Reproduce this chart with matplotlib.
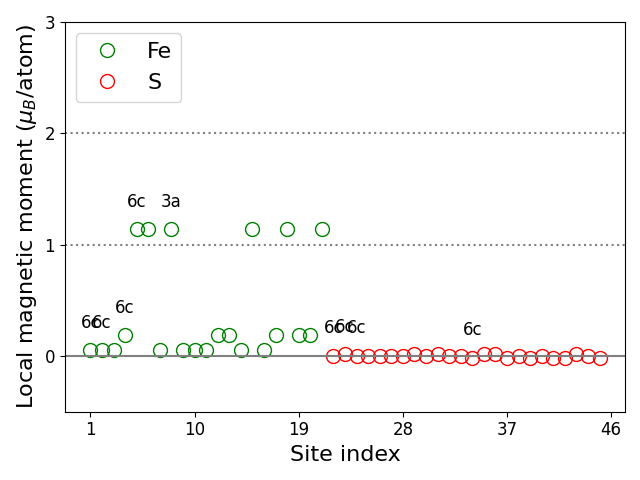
import numpy as np
import matplotlib
matplotlib.use("Agg")
import matplotlib.pyplot as plt

# 局域磁矩数据
fe_sites = list(range(1, 22))
fe_moments = [0.05, 0.05, 0.05, 0.19, 1.14, 1.14, 0.05, 1.14, 0.05, 0.05,
              0.05, 0.19, 0.19, 0.05, 1.14, 0.05, 0.19, 1.14, 0.19, 0.19,
              1.14]

s_sites = list(range(22, 46))
s_moments = [0.003, 0.02, 0.003, 0.003, 0.003, 0.003, 0.003, 0.02, 0.003, 0.02,
             0.003, 0.003, -0.015, 0.02, 0.02, -0.015, 0.0, -0.015, 0.003, -0.015,
             -0.015, 0.02, 0.003, -0.02]

# 标注的位点及其 Wyckoff 标签
label_sites = [1, 2, 4, 5, 8, 22, 23, 24, 34]
label_texts = ["6c", "6c", "6c", "6c", "3a", "6c", "6c", "6c", "6c"]

all_sites = fe_sites + s_sites
all_moments = fe_moments + s_moments

fig, ax = plt.subplots(figsize=(6.4, 4.8), dpi=100)
ax.plot(fe_sites, fe_moments, 'o', mfc='none', mec='green', ms=10, label="Fe")
ax.plot(s_sites, s_moments, 'o', mfc='none', mec='red', ms=10, label="S")

ax.axhline(0, color='gray', lw=1.5)
ax.axhline(1, color='gray', ls=':', lw=1.5)
ax.axhline(2, color='gray', ls=':', lw=1.5)

for site, txt in zip(label_sites, label_texts):
    m = all_moments[all_sites.index(site)]
    ax.text(site, m + 0.2, txt, ha='center', fontsize=12)

ax.set_ylim(-0.5, 3)
ax.set_yticks([0, 1, 2, 3])
ax.set_xticks(range(1, 47, 9))
ax.tick_params(labelsize=12)
ax.set_xlabel("Site index", fontsize=16)
ax.set_ylabel(r"Local magnetic moment ($\mu_B$/atom)", fontsize=16)
ax.legend(fontsize=16, loc='upper left')

plt.tight_layout()
plt.savefig("out.png", dpi=100)
